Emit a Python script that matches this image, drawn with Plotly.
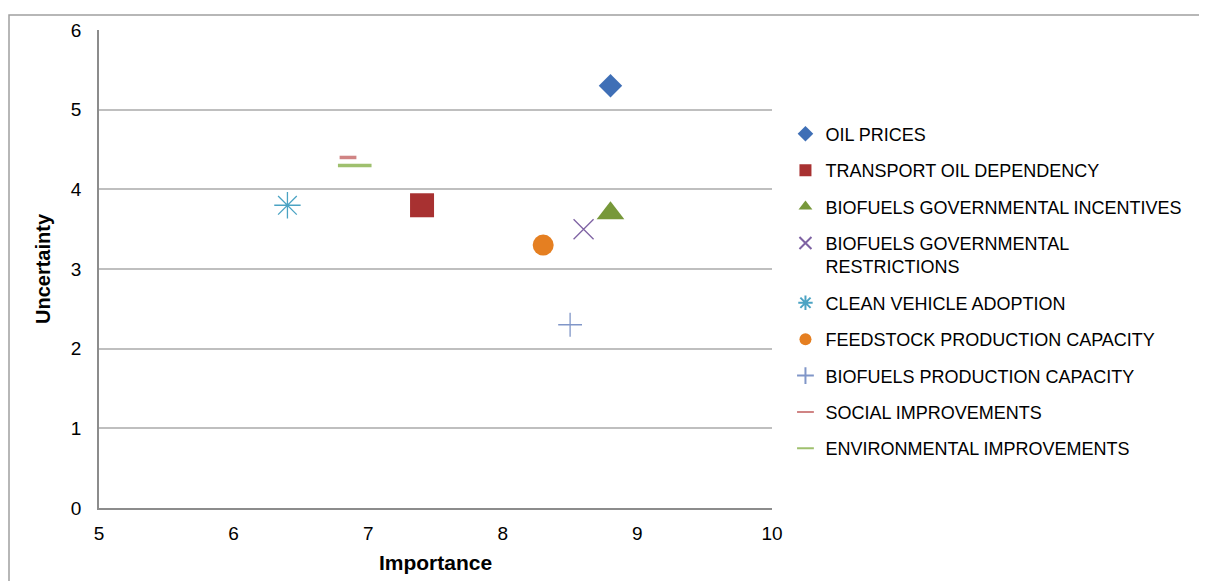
import plotly.graph_objects as go

# driver names and their scores
drivers = [
    "OIL PRICES",
    "TRANSPORT OIL DEPENDENCY",
    "BIOFUELS GOVERNMENTAL INCENTIVES",
    "BIOFUELS GOVERNMENTAL<br>RESTRICTIONS",
    "CLEAN VEHICLE ADOPTION",
    "FEEDSTOCK PRODUCTION CAPACITY",
    "BIOFUELS PRODUCTION CAPACITY",
    "SOCIAL IMPROVEMENTS",
    "ENVIRONMENTAL IMPROVEMENTS",
]
importance = [8.8, 7.4, 8.8, 8.6, 6.4, 8.3, 8.5, 6.85, 6.9]
uncertainty = [5.3, 3.8, 3.7, 3.5, 3.8, 3.3, 2.3, 4.4, 4.3]

x_ticks = [5, 6, 7, 8, 9, 10]
y_ticks = [0, 1, 2, 3, 4, 5, 6]

# marker look for each driver (Excel 2007 style)
markers = [
    dict(symbol="diamond", size=18, color="#3F6FB6", line=dict(width=0)),
    dict(symbol="square", size=24, color="#A83131", line=dict(width=0)),
    dict(symbol="triangle-up", size=24, color="#77983A", line=dict(width=0)),
    dict(symbol="x-thin-open", size=20, color="#7E62A3", line=dict(width=1.3, color="#7E62A3")),
    dict(symbol="asterisk-open", size=22, color="#4BA3C3", line=dict(width=1.3, color="#4BA3C3")),
    dict(symbol="circle", size=21, color="#E57F21", line=dict(width=0)),
    dict(symbol="cross-thin-open", size=17, color="#8096C8", line=dict(width=1.3, color="#8096C8")),
    dict(symbol="line-ew-open", size=12, color="#D08484", line=dict(width=3.5, color="#D08484")),
    dict(symbol="line-ew-open", size=24, color="#9FC06E", line=dict(width=3.5, color="#9FC06E")),
]

fig = go.Figure()
for i, name in enumerate(drivers):
    fig.add_trace(go.Scatter(
        x=[importance[i]], y=[uncertainty[i]],
        mode="markers", name=name, legendgroup=str(i),
        marker=markers[i],
    ))

# page body adds 8px, so margins are 8px less than what the picture shows
W, H = 1207, 581
ml, mr, mt, mb = 91, 443, 22, 81
pw = W - ml - mr
ph = H - mt - mb

# outer chart-area border: only left and top edges are in view
bx = (1 - ml) / pw
by = 1 + (mt - 7) / ph
fig.add_shape(type="path", xref="paper", yref="paper",
              path=f"M {bx},-0.5 L {bx},{by} L 2.0,{by}",
              line=dict(color="#A0A0A0", width=1.5), layer="below")

fig.update_layout(
    width=W, height=H,
    margin=dict(l=ml, r=mr, t=mt, b=mb),
    paper_bgcolor="white", plot_bgcolor="white",
    font=dict(family="Liberation Sans, Arial, sans-serif", color="black"),
    showlegend=True,
    legend=dict(
        x=1.02, y=0.821, xanchor="left", yanchor="top",
        font=dict(size=18, color="black"),
        tracegroupgap=10, itemsizing="constant", valign="top",
        bgcolor="rgba(0,0,0,0)",
    ),
    xaxis=dict(
        range=[5, 10], tickvals=x_ticks, showgrid=False, zeroline=False,
        showline=True, linecolor="#8C8C8C", linewidth=1.5,
        ticks="", tickfont=dict(size=19), ticklabelstandoff=7,
        title=dict(text="<b>Importance</b>", font=dict(size=21), standoff=13),
    ),
    yaxis=dict(
        range=[0, 6], tickvals=y_ticks, showgrid=True, gridcolor="#BFBFBF", gridwidth=1.5,
        zeroline=False, showline=True, linecolor="#8C8C8C", linewidth=1.5,
        ticks="", tickfont=dict(size=19), ticklabelstandoff=12,
        title=dict(text="<b>Uncertainty</b>", font=dict(size=20), standoff=15),
    ),
)

fig.write_html("out.html")
